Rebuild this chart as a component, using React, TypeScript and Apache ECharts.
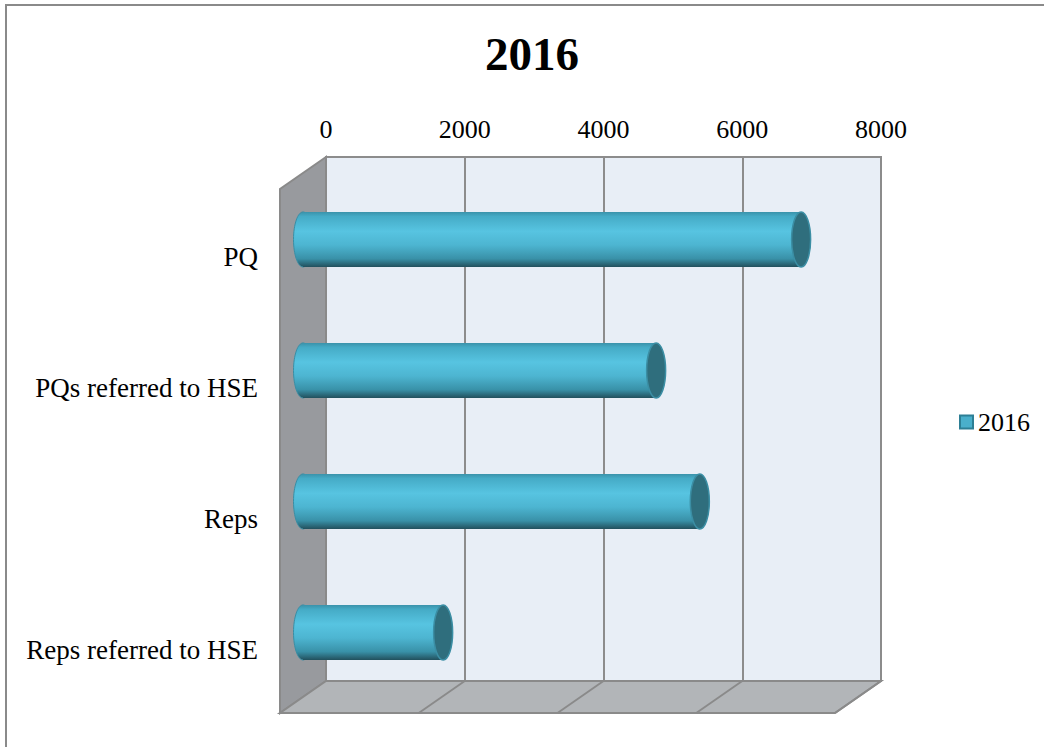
import React, { useEffect, useRef } from "react";
import * as echarts from "echarts";

const categories = ["PQ", "PQs referred to HSE", "Reps", "Reps referred to HSE"];
const values2016 = [7180, 5090, 5720, 2020];
const seriesName = "2016";
const titleText = "2016";
const xMin = 0;
const xMax = 8000;
const xInterval = 2000;
const xTicks = [0, 2000, 4000, 6000, 8000];

const DX = -46;
const DY = 32;
const FONT = "'Liberation Serif', 'Times New Roman', serif";

export default function App() {
  const ref = useRef<HTMLDivElement>(null);
  useEffect(() => {
    if (!ref.current) return;
    const chart = echarts.init(ref.current, undefined, { renderer: "svg" });
    const barData = values2016.map((v, i) => [v, i]);
    const option: any = {
      animation: false,
      backgroundColor: "#ffffff",
      title: {
        text: titleText,
        left: 480,
        top: 25,
        textStyle: { fontSize: 47, fontWeight: "bold", fontFamily: FONT, color: "#000" },
      },
      legend: {
        data: [seriesName],
        left: 954,
        top: 404,
        icon: "rect",
        itemWidth: 13,
        itemHeight: 13,
        textStyle: { fontSize: 26, fontFamily: FONT, color: "#000" },
      },
      grid: {
        left: 326,
        top: 157,
        width: 555,
        height: 524,
        show: true,
        backgroundColor: "#e8eef6",
        borderColor: "#8c8c8c",
        borderWidth: 2,
        containLabel: false,
      },
      xAxis: {
        type: "value",
        position: "top",
        min: xMin,
        max: xMax,
        interval: xInterval,
        axisLine: { show: false },
        axisTick: { show: false },
        axisLabel: {
          fontSize: 26,
          fontFamily: FONT,
          color: "#000",
          margin: 15,
          formatter: (v: number) => String(v),
        },
        splitLine: { show: true, lineStyle: { color: "#8c8c8c", width: 2 } },
      },
      yAxis: {
        type: "category",
        data: categories,
        inverse: true,
        axisLine: { show: false },
        axisTick: { show: false },
        axisLabel: { show: false },
        splitLine: { show: false },
      },
      graphic: [
        {
          type: "rect",
          shape: { x: 6, y: 5, width: 1100, height: 800 },
          style: { fill: "none", stroke: "#8a8a8a", lineWidth: 2 },
          silent: true,
        },
      ],
      series: [
        {
          type: "custom",
          name: "frame",
          silent: true,
          clip: false,
          z: 1,
          data: [[0, 0]],
          renderItem: (params: any, api: any) => {
            const cs = params.coordSys;
            const x = cs.x, y = cs.y, w = cs.width, h = cs.height;
            const children: any[] = [];
            children.push({
              type: "polygon",
              shape: {
                points: [
                  [x, y],
                  [x + DX, y + DY],
                  [x + DX, y + h + DY],
                  [x, y + h],
                ],
              },
              style: { fill: "#989a9e", stroke: "#8a8a8a", lineWidth: 2 },
            });
            children.push({
              type: "polygon",
              shape: {
                points: [
                  [x, y + h],
                  [x + w, y + h],
                  [x + w + DX, y + h + DY],
                  [x + DX, y + h + DY],
                ],
              },
              style: { fill: "#b2b5b8", stroke: "#8a8a8a", lineWidth: 2 },
            });
            xTicks.slice(1).forEach((t) => {
              const px = api.coord([t, 0])[0];
              children.push({
                type: "line",
                shape: { x1: px, y1: y + h, x2: px + DX, y2: y + h + DY },
                style: { stroke: "#8a8a8a", lineWidth: 2 },
              });
            });
            return { type: "group", children };
          },
        },
        {
          type: "custom",
          name: seriesName,
          clip: false,
          z: 3,
          itemStyle: { color: "#4aafcb", borderColor: "#2d7f95", borderWidth: 1 },
          data: barData,
          renderItem: (params: any, api: any) => {
            const v = api.value(0);
            const i = api.value(1);
            const p0 = api.coord([0, i]);
            const p1 = api.coord([v, i]);
            const band = api.size([0, 1])[1];
            const h = band * 0.42;
            const x0 = p0[0] + DX * 0.5;
            const x1 = p1[0] + DX * 0.5;
            const cy = p0[1] + DY * 0.53;
            const rx = 9.5;
            const grad = () =>
              new echarts.graphic.LinearGradient(0, 0, 0, 1, [
                { offset: 0, color: "#3a92aa" },
                { offset: 0.08, color: "#45abc6" },
                { offset: 0.35, color: "#57c4e1" },
                { offset: 0.6, color: "#4db5d1" },
                { offset: 0.85, color: "#3991a8" },
                { offset: 1, color: "#22505d" },
              ]);
            const cs = params.coordSys;
            return {
              type: "group",
              children: [
                {
                  type: "ellipse",
                  shape: { cx: x0, cy, rx, ry: h / 2 },
                  style: { fill: grad(), stroke: "#3a8ea5", lineWidth: 1 },
                },
                {
                  type: "rect",
                  shape: { x: x0, y: cy - h / 2, width: Math.max(0, x1 - x0), height: h },
                  style: { fill: grad() },
                },
                {
                  type: "ellipse",
                  shape: { cx: x1, cy, rx, ry: h / 2 },
                  style: { fill: "#2f6e7d", stroke: "#3b8ea4", lineWidth: 1.5 },
                },
                {
                  type: "text",
                  style: {
                    text: categories[i],
                    x: cs.x + DX - 22,
                    y: p0[1] + DY + 2,
                    align: "right",
                    verticalAlign: "middle",
                    fontSize: 27,
                    fontFamily: FONT,
                    fill: "#000",
                  },
                },
              ],
            };
          },
        },
      ],
    };
    chart.setOption(option);
    return () => chart.dispose();
  }, []);
  return (
    <div
      ref={ref}
      style={{ position: "absolute", left: 0, top: 0, width: 1044, height: 747 }}
    />
  );
}
